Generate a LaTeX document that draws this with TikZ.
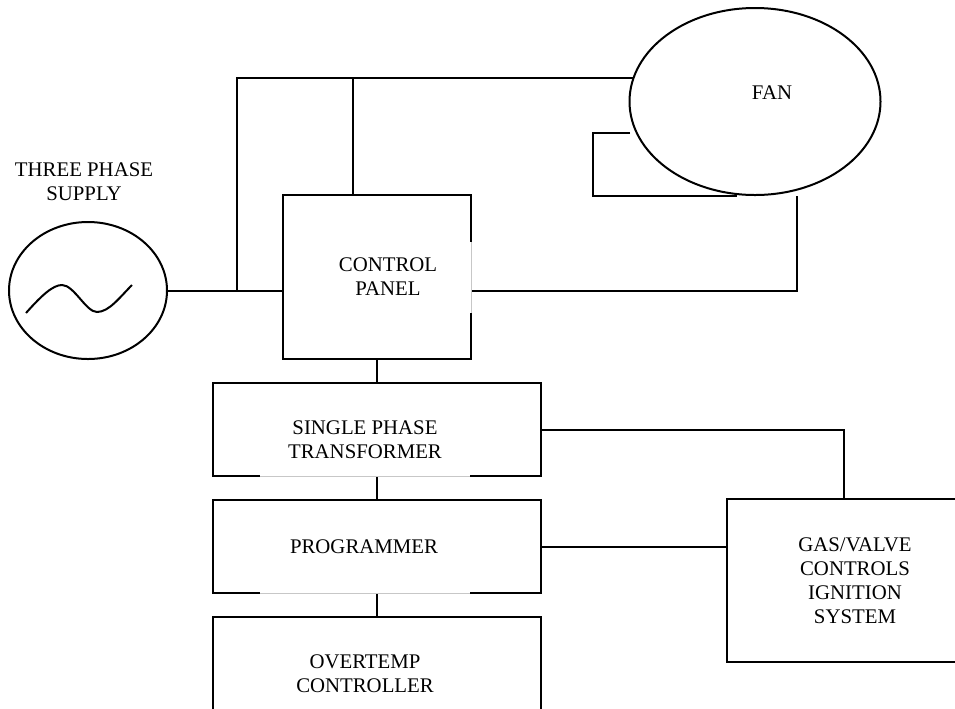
\documentclass[tikz,border=0pt]{standalone}
\usepackage{fontspec}
\setmainfont{Liberation Serif}
\usetikzlibrary{shapes.geometric}

\tikzset{every picture/.style={line width=0.75pt}}
\tikzset{
  blk/.style={draw, line width=1.5pt, inner sep=0pt},
  oval/.style={draw, ellipse, line width=1.5pt, inner sep=0pt},
  lbl/.style={align=center, inner sep=0.75pt, font=\fontsize{15.6}{18}\selectfont},
  faint/.style={draw=black!22, line width=0.6pt}
}

\begin{document}
\begin{tikzpicture}[
            x=0.75pt,
            y=0.75pt,
            yscale=-1,
            xscale=1,
            every node/.style={text=black},
            line width=1.5pt
        ]
            \useasboundingbox (0,0) rectangle (955,708);
            \clip (0,0) rectangle (955,708);

            % supply and fan
            \node [oval, minimum width=118.5pt, minimum height=102.75pt] (supply) at (88,290.5) {};
            \node [oval, minimum width=188.25pt, minimum height=140.25pt] (fan) at (755,101.5) {};
            \draw (26,313) .. controls (42,295) and (53,285) .. (62,285) .. controls (74,285) and (86,312) .. (97,312) .. controls (109,312) and (120,297) .. (132,285) ;

            % boxes
            \node [blk, minimum width=141pt, minimum height=123pt] (panel) at (377,277) {};
            \node [blk, minimum width=246pt, minimum height=69.75pt] (trans) at (377,429.5) {};
            \node [blk, minimum width=246pt, minimum height=69.75pt] (prog) at (377,546.5) {};
            \node [blk, minimum width=246pt, minimum height=85.5pt] (over) at (377,674) {};
            \node [blk, minimum width=175.5pt, minimum height=122.25pt] (gas) at (844,580.5) {};

            % faint edges
            \draw [white, line width=2pt] (471,242) -- (471,313) ;
            \draw [faint] (471,242) -- (471,313) ;
            \draw [white, line width=2pt] (260,476) -- (470,476) ;
            \draw [faint] (260,476) -- (470,476) ;
            \draw [white, line width=2pt] (260,593) -- (470,593) ;
            \draw [faint] (260,593) -- (470,593) ;

            % connectors
            \coordinate (j1) at (237,290.5);
            \coordinate (j2) at (353,79);
            \coordinate (fanr) at (797,196);
            \coordinate (loopa) at (630,133);
            \coordinate (loopb) at (737,196);
            \draw (supply.east) -- (supply.east -| panel.west) ;
            \draw (j1) |- (fan.169.5) ;
            \draw (j2) -- (j2 |- panel.north) ;
            \draw (panel.east |- j1) -| (fanr) ;
            \draw (loopa) -- ++(-37,0) |- (loopb) ;
            \draw (panel) -- (trans) ;
            \draw (trans) -- (prog) ;
            \draw (prog) -- (over) ;
            \draw (trans) -| (gas) ;
            \draw (prog.east) -- (prog.east -| gas.west) ;

            % labels
            \node [lbl] (supplytxt) at (84,182) {THREE PHASE\\SUPPLY};
            \node [lbl] (fantxt) at (772,93) {FAN};
            \node [lbl] (paneltxt) at (388,276.5) {CONTROL\\PANEL};
            \node [lbl] (transtxt) at (365,440) {SINGLE PHASE\\TRANSFORMER};
            \node [lbl] (progtxt) at (364,547) {PROGRAMMER};
            \node [lbl] (overtxt) at (365,674) {OVERTEMP\\CONTROLLER};
            \node [lbl] (gastxt) at (855,581) {GAS/VALVE\\CONTROLS\\IGNITION\\SYSTEM};
        \end{tikzpicture}
\end{document}
